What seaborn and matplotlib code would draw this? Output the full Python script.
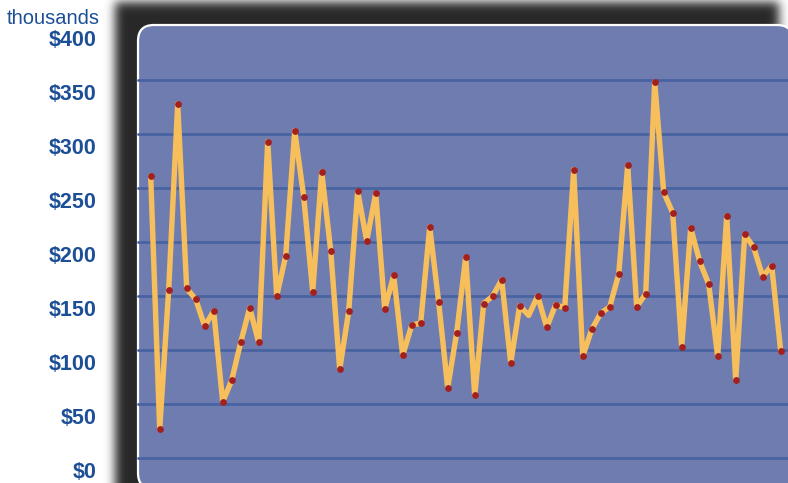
import numpy as np
import pandas as pd
import seaborn as sns
import matplotlib
matplotlib.use("Agg")
import matplotlib.pyplot as plt
from matplotlib.patches import FancyBboxPatch
from matplotlib.transforms import IdentityTransform, ScaledTranslation

# Monthly amounts, in thousands of dollars
values = [261, 27, 156, 328, 157, 147, 122, 136, 52, 72,
          107, 139, 107, 293, 150, 187, 303, 242, 154, 265,
          192, 82, 136, 247, 201, 245, 138, 169, 95, 123,
          125, 214, 144, 65, 116, 186, 58, 143, 150, 165,
          88, 141, 132, 150, 121, 142, 139, 267, 94, 119,
          134, 140, 170, 271, 140, 152, 348, 246, 227, 103,
          213, 182, 161, 94, 224, 72, 207, 195, 168, 178, 99]
unmarked = [42]
tick_values = [0, 50, 100, 150, 200, 250, 300, 350, 400]
tick_labels = ["$0", "$50", "$100", "$150", "$200", "$250", "$300", "$350", "$400"]
unit_label = "thousands"

df = pd.DataFrame({"period": np.arange(len(values)), "amount": values})
marked = df[~df["period"].isin(unmarked)]

W, H, DPI = 788, 483, 100
panel_color = "#6f7cb0"
grid_color = "#4863a2"
line_color = "#f6bf5b"
dot_color = "#a3201f"
text_color = "#1d4f97"

sns.set_theme(style="white")
plt.rcParams["font.family"] = ["Liberation Sans", "DejaVu Sans"]

fig = plt.figure(figsize=(W / DPI, H / DPI), dpi=DPI)
fig.patch.set_facecolor("white")

# soft drop shadow behind the panel
yy, xx = np.mgrid[0:H, 0:W]
mask = ((xx >= 115) & (xx <= 778) & (yy >= 2)).astype(float)
sigma = 5.0
k = np.arange(-16, 17)
kern = np.exp(-k ** 2 / (2 * sigma ** 2))
kern /= kern.sum()
pad = 20
m = np.pad(mask, pad, mode="edge")
m[:pad, :] = 0
m[:, :pad] = 0
m[:, -pad:] = 0
m = np.apply_along_axis(lambda r: np.convolve(r, kern, mode="same"), 1, m)
m = np.apply_along_axis(lambda c: np.convolve(c, kern, mode="same"), 0, m)
m = m[pad:-pad, pad:-pad]
shadow = np.zeros((H, W, 4))
shadow[..., :3] = 0.13
shadow[..., 3] = np.clip(m, 0, 1) * 0.97
fig.figimage(shadow, xo=0, yo=0, origin="upper", zorder=0)

# rounded panel
panel = FancyBboxPatch((138, -6), 655, 464,
                       boxstyle="round,pad=0,rounding_size=16",
                       transform=IdentityTransform(),
                       facecolor=panel_color, edgecolor="white",
                       linewidth=1.6, zorder=1)
fig.add_artist(panel)

x0_px, step_px = 150.7, 9.0
ax = fig.add_axes([138 / W, (H - 458) / H, (W - 138) / W, 432 / H])
ax.set_zorder(3)
ax.patch.set_visible(False)
for s in ax.spines.values():
    s.set_visible(False)

ax.set_ylim(0, 400)
ax.set_xlim(-(x0_px - 138) / step_px, (W - x0_px) / step_px)
ax.set_yticks(tick_values)
ax.set_yticklabels(tick_labels)
ax.set_xticks([])
ax.grid(axis="y", color=grid_color, linewidth=2.0)
gridlines = ax.yaxis.get_gridlines()
for gl in gridlines:
    gl.set_clip_on(False)
gridlines[-1].set_visible(False)
ax.tick_params(axis="y", length=0, pad=30, labelsize=15.5, labelcolor=text_color)
ax.set_axisbelow(True)

shift = ScaledTranslation(0, -11.5 / DPI, fig.dpi_scale_trans)
for lab in ax.get_yticklabels():
    lab.set_fontweight("bold")
    lab.set_transform(lab.get_transform() + shift)

sns.lineplot(data=df, x="period", y="amount", ax=ax, color=line_color,
             linewidth=3.9, zorder=4, solid_joinstyle="round",
             solid_capstyle="round")
sns.scatterplot(data=marked, x="period", y="amount", ax=ax, color=dot_color,
                s=24, linewidth=0, zorder=5)
ax.set_xlabel("")
ax.set_ylabel("")

fig.text(100 / W, 1 - 18 / H, unit_label, ha="right", va="center",
         fontsize=14.5, color=text_color)

fig.savefig("out.png", dpi=DPI)
